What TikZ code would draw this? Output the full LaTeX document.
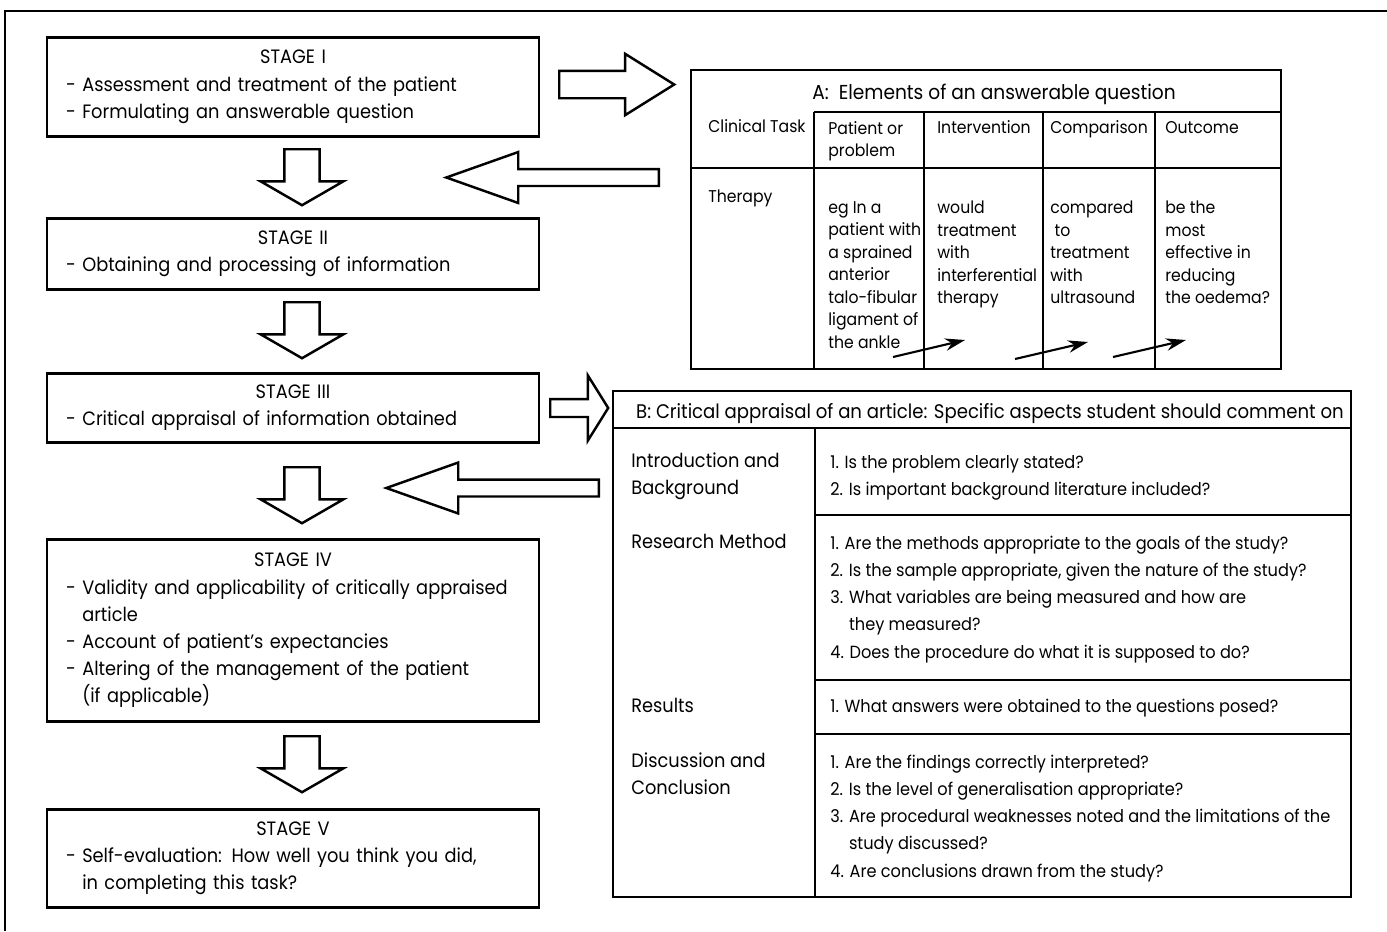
\documentclass[tikz,border=0pt]{standalone}
\usepackage{fontspec}
\setmainfont{Poppins}[FakeStretch=0.92]
\usetikzlibrary{arrows.meta,shapes.arrows,calc}
\newcommand\stagetitle[1]{\makebox[\linewidth]{#1}}
\tikzset{
  bigtxt/.style  ={font=\fontsize{11}{15.4}\selectfont, inner sep=0pt, align=left},
  midtxt/.style  ={font=\fontsize{10}{15.4}\selectfont, inner sep=0pt, align=left},
  smalltxt/.style={font=\fontsize{9.7}{12.8}\selectfont, inner sep=0pt, align=left},
  toptxt/.style  ={anchor=north west, execute at begin node=\strut},
  stagebox/.style={draw, line width=1.5pt, bigtxt, inner xsep=0.38cm, text width=9.08cm, minimum width=9.84cm},
  tline/.style   ={line width=1.5pt},
  blockarr/.style={single arrow, draw, line width=1.4pt, fill=white, inner xsep=0pt, minimum width=0pt},
  downarr/.style ={blockarr, shape border rotate=270, inner xsep=0.33cm, inner ysep=0pt, single arrow head extend=0.47cm, single arrow tip angle=120, minimum height=1.12cm},
  rarrA/.style   ={blockarr, inner ysep=0.25cm, single arrow head extend=0.34cm, single arrow tip angle=64, minimum height=2.3cm},
  rarrB/.style   ={blockarr, inner ysep=0.155cm, single arrow head extend=0.47cm, single arrow tip angle=116, minimum height=1.16cm},
  larr/.style    ={blockarr, shape border rotate=180, inner ysep=0.145cm, single arrow head extend=0.34cm, single arrow tip angle=39, minimum height=4.25cm},
  flow/.style    ={-{Stealth[length=4mm, width=2.5mm]}, line width=1.2pt},
}

\begin{document}
\begin{tikzpicture}[x=0.02cm, y=-0.02cm]
  \useasboundingbox (0,0) rectangle (1387,931);
  % outer frame, only its top and left edges show
  \draw[line width=1.2pt] (5,931) -- (5,11) -- (1387,11);

  % the five stages
  \node[stagebox, minimum height=1.98cm, anchor=north] (s1) at (293,36)
    {\stagetitle{STAGE I}\\- Assessment and treatment of the patient\\- Formulating an answerable question};
  \node[stagebox, minimum height=1.42cm, anchor=north] (s2) at (293,217)
    {\stagetitle{STAGE II}\\- Obtaining and processing of information};
  \node[stagebox, minimum height=1.38cm, anchor=north] (s3) at (293,372)
    {\stagetitle{STAGE III}\\- Critical appraisal of information obtained};
  \node[stagebox, minimum height=3.64cm, anchor=north] (s4) at (293,538)
    {\stagetitle{STAGE IV}\\- Validity and applicability of critically appraised\\\hphantom{- }article\\- Account of patient's expectancies\\- Altering of the management of the patient\\\hphantom{- }(if applicable)};
  \node[stagebox, minimum height=1.96cm, anchor=north] (s5) at (293,808)
    {\stagetitle{STAGE V}\\- Self-evaluation: How well you think you did,\\\hphantom{- }in completing this task?};

  % block arrows
  \node[downarr, anchor=tail] (d1) at (302,148) {};
  \node[downarr, anchor=tail] (d2) at (302,301) {};
  \node[downarr, anchor=tail] (d3) at (302,466) {};
  \node[downarr, anchor=tail] (d4) at (302,735) {};
  \node[rarrA, anchor=tail] (r1) at (558,84.5) {};
  \node[larr,  anchor=tail] (l1) at (660,177.5) {};
  \node[rarrB, anchor=tail] (r2) at (549,408) {};
  \node[larr,  anchor=tail] (l2) at (600,488) {};

  % table A
  \draw[tline] (691,70) rectangle (1281,369);
  \draw[tline] (814,112) -- (1281,112);
  \draw[tline] (691,168) -- (1281,168);
  \foreach \cx in {814,924,1043,1155} \draw[tline] (\cx,112) -- (\cx,369);
  \node[bigtxt, font=\fontsize{11.5}{15.4}\selectfont, anchor=base] (tA) at (994,99) {A:\ \ Elements of an answerable question};
  \node[smalltxt, anchor=base west] (hTask) at (708,132) {Clinical Task};
  \node[smalltxt, toptxt] (hPat)  at (828,121) {Patient or\\problem};
  \node[smalltxt, anchor=base west] (hInt)  at (937,133) {Intervention};
  \node[smalltxt, anchor=base west] (hComp) at (1050,133) {Comparison};
  \node[smalltxt, anchor=base west] (hOut)  at (1165,133) {Outcome};
  \node[smalltxt, anchor=base west] (cTher) at (708,202) {Therapy};
  \node[smalltxt, toptxt] (cPat)  at (828,201)
    {eg In a\\patient with\\a sprained\\anterior\\talo-fibular\\ligament of\\the ankle};
  \node[smalltxt, toptxt] (cInt)  at (937,201)
    {would\\treatment\\with\\interferential\\therapy};
  \node[smalltxt, toptxt] (cComp) at (1050,201)
    {compared\\\ to\\treatment\\with\\ultrasound};
  \node[smalltxt, toptxt] (cOut)  at (1165,201)
    {be the\\most\\effective in\\reducing\\the oedema?};
  \coordinate (a1s) at (893,357); \coordinate (a1e) at (965,340);
  \coordinate (a2s) at (1015,359); \coordinate (a2e) at (1088,342);
  \coordinate (a3s) at (1113,357); \coordinate (a3e) at (1186,340);
  \draw[flow] (a1s) -- (a1e);
  \draw[flow] (a2s) -- (a2e);
  \draw[flow] (a3s) -- (a3e);

  % table B
  \draw[tline] (613,391) rectangle (1351,897);
  \draw[tline] (613,428) -- (1351,428);
  \draw[tline] (815,428) -- (815,897);
  \foreach \ry in {515,680,734} \draw[tline] (815,\ry) -- (1351,\ry);
  \node[bigtxt, font=\fontsize{11.2}{15.4}\selectfont, anchor=base] (tB) at (990,418)
    {B: Critical appraisal of an article: Specific aspects student should comment on};
  \node[bigtxt, toptxt] (bIntro) at (631,452) {Introduction and\\Background};
  \node[bigtxt, anchor=base west] (bMeth)  at (631,548) {Research Method};
  \node[bigtxt, anchor=base west] (bRes)   at (631,712) {Results};
  \node[bigtxt, toptxt] (bDisc)  at (631,752) {Discussion and\\Conclusion};
  \node[midtxt, toptxt] (qIntro) at (830,455)
    {1. Is the problem clearly stated?\\2. Is important background literature included?};
  \node[midtxt, toptxt] (qMeth)  at (830,536)
    {1. Are the methods appropriate to the goals of the study?\\
     2. Is the sample appropriate, given the nature of the study?\\
     3. What variables are being measured and how are\\
     \hphantom{3. }they measured?\\
     4. Does the procedure do what it is supposed to do?};
  \node[midtxt, anchor=base west] (qRes)   at (830,712)
    {1. What answers were obtained to the questions posed?};
  \node[midtxt, toptxt] (qDisc)  at (830,755)
    {1. Are the findings correctly interpreted?\\
     2. Is the level of generalisation appropriate?\\
     3. Are procedural weaknesses noted and the limitations of the\\
     \hphantom{3. }study discussed?\\
     4. Are conclusions drawn from the study?};
\end{tikzpicture}
\end{document}
